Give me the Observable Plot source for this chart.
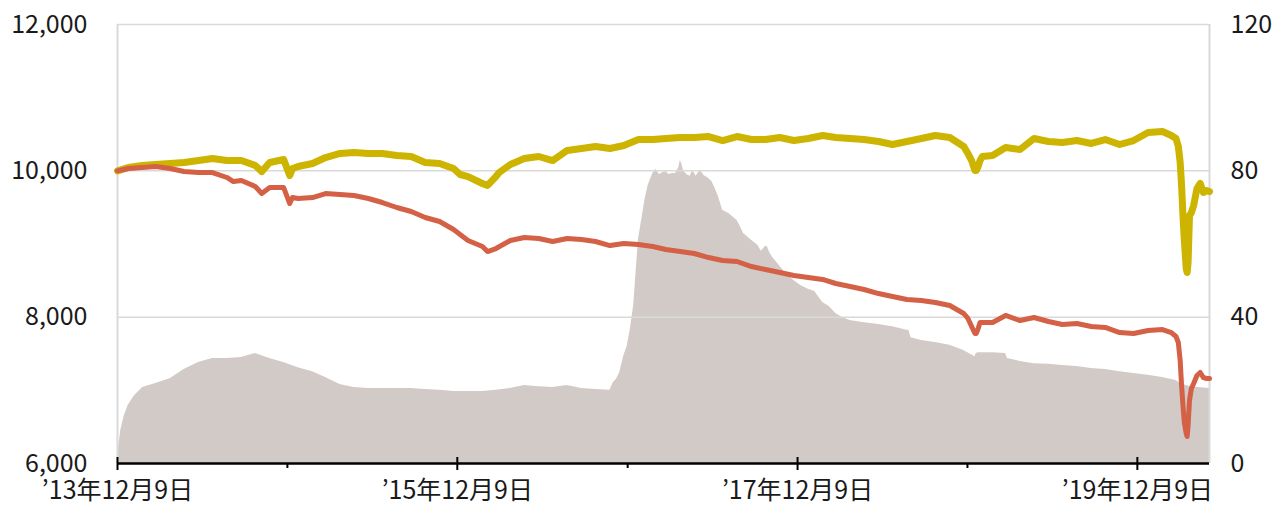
<!DOCTYPE html>
<html>
<head>
<meta charset="utf-8">
<script src="https://cdn.jsdelivr.net/npm/d3@7"></script>
<script src="https://cdn.jsdelivr.net/npm/@observablehq/plot@0.6"></script>
<style>
  html, body { margin: 0; padding: 0; background: #fff; }
  #chart { width: 1282px; height: 507px; }
</style>
</head>
<body>
<div id="chart"></div>
<script>
// ---- Data ----
const domainDates = ["2013-12-09", "2020-05-12"];
const majorTickDates = ["2013-12-09", "2015-12-09", "2017-12-09", "2019-12-09"];
const minorTickDates = ["2014-12-09", "2016-12-09", "2018-12-09"];
const leftTicks = [6000, 8000, 10000, 12000];
const rightTicks = [0, 40, 80, 120];

// yellow line (left axis)
const yellowDates = ["2013-12-09","2014-01-01","2014-02-01","2014-03-01","2014-04-01","2014-05-01","2014-06-01","2014-07-01","2014-08-01","2014-09-01","2014-10-01","2014-10-15","2014-11-01","2014-12-01","2014-12-14","2014-12-20",
"2015-01-01","2015-02-01","2015-03-01","2015-04-01","2015-05-01","2015-06-01","2015-07-01","2015-08-01","2015-09-01","2015-10-01","2015-11-01","2015-12-01","2015-12-15",
"2016-01-01","2016-02-01","2016-02-12","2016-03-01","2016-03-08","2016-04-01","2016-05-01","2016-06-01","2016-07-01","2016-08-01","2016-09-01","2016-10-01","2016-11-01","2016-12-01",
"2017-01-01","2017-02-01","2017-03-01","2017-04-01","2017-05-01","2017-06-01","2017-07-01","2017-08-01","2017-09-01","2017-10-01","2017-11-01","2017-12-01",
"2018-01-01","2018-02-01","2018-03-01","2018-04-01","2018-05-01","2018-06-01","2018-07-01","2018-08-01","2018-09-01","2018-10-01","2018-11-01","2018-12-01","2018-12-10","2018-12-18","2018-12-25","2018-12-28",
"2019-01-01","2019-01-05","2019-01-10","2019-02-01","2019-03-01","2019-04-01","2019-05-01","2019-06-01","2019-07-01","2019-08-01","2019-09-01","2019-10-01","2019-11-01","2019-12-01",
"2020-01-01","2020-02-01","2020-02-20","2020-03-01","2020-03-06","2020-03-10","2020-03-13","2020-03-16","2020-03-19","2020-03-23","2020-03-25","2020-03-27","2020-03-30","2020-04-03","2020-04-08","2020-04-15","2020-04-22","2020-04-29","2020-05-06","2020-05-12"];
const yellowValues = [10000,10045,10073,10087,10100,10114,10141,10168,10141,10141,10073,9990,10114,10155,9936,10032,
10059,10100,10182,10237,10250,10237,10237,10209,10196,10114,10100,10032,9950,
9922,9827,9800,9922,9977,10087,10168,10196,10141,10278,10305,10333,10305,10346,
10428,10428,10442,10455,10455,10469,10414,10469,10428,10428,10455,10414,
10442,10483,10455,10442,10428,10401,10360,10401,10442,10483,10455,10333,10237,10141,10004,10004,
10059,10141,10196,10209,10319,10292,10442,10401,10387,10414,10374,10428,10360,10414,
10524,10538,10483,10442,10336,10114,9799,9389,9048,8665,8610,8747,9389,9430,9526,9758,9827,9704,9731,9717];

// red line (left axis)
const redDates = ["2013-12-09","2014-01-01","2014-02-01","2014-03-01","2014-04-01","2014-05-01","2014-06-01","2014-07-01","2014-08-01","2014-08-15","2014-09-01","2014-10-01","2014-10-15","2014-11-01","2014-12-01","2014-12-14","2014-12-20",
"2015-01-01","2015-02-01","2015-03-01","2015-04-01","2015-05-01","2015-06-01","2015-07-01","2015-08-01","2015-09-01","2015-10-01","2015-11-01","2015-12-01",
"2016-01-01","2016-02-01","2016-02-12","2016-03-01","2016-04-01","2016-05-01","2016-06-01","2016-07-01","2016-08-01","2016-09-01","2016-10-01","2016-11-01","2016-12-01",
"2017-01-01","2017-02-01","2017-03-01","2017-04-01","2017-05-01","2017-06-01","2017-07-01","2017-08-01","2017-09-01","2017-10-01","2017-11-01","2017-12-01",
"2018-01-01","2018-02-01","2018-03-01","2018-04-01","2018-05-01","2018-06-01","2018-07-01","2018-08-01","2018-09-01","2018-10-01","2018-11-01","2018-12-01","2018-12-10","2018-12-18","2018-12-25","2018-12-28",
"2019-01-01","2019-01-05","2019-01-10","2019-02-01","2019-03-01","2019-04-01","2019-05-01","2019-06-01","2019-07-01","2019-08-01","2019-09-01","2019-10-01","2019-11-01","2019-12-01",
"2020-01-01","2020-02-01","2020-02-20","2020-03-01","2020-03-06","2020-03-10","2020-03-13","2020-03-16","2020-03-19","2020-03-23","2020-03-25","2020-03-27","2020-03-30","2020-04-03","2020-04-08","2020-04-15","2020-04-22","2020-04-29","2020-05-06","2020-05-12"];
const redValues = [10000,10032,10045,10059,10032,9990,9977,9977,9909,9854,9868,9786,9690,9772,9772,9553,9635,
9622,9635,9690,9676,9663,9622,9567,9499,9444,9362,9308,9198,
9048,8966,8897,8938,9048,9089,9075,9034,9075,9061,9034,8979,9007,
8993,8966,8925,8897,8870,8815,8774,8761,8692,8651,8610,8569,
8542,8515,8460,8419,8378,8323,8282,8241,8228,8200,8159,8050,7982,7872,7777,7777,
7845,7927,7927,7927,8023,7954,7995,7941,7900,7913,7872,7859,7790,7777,
7818,7831,7790,7736,7654,7408,7066,6793,6560,6410,6369,6519,6861,7025,7093,7203,7244,7175,7162,7162];

// grey area (right axis, 0-120)
const grayDates = ["2013-12-09","2013-12-12","2013-12-16","2013-12-23","2014-01-01","2014-01-15","2014-02-01","2014-03-01","2014-04-01","2014-05-01","2014-06-01","2014-07-01","2014-08-01","2014-09-01","2014-10-01","2014-11-01","2014-12-01",
"2015-01-01","2015-02-01","2015-03-01","2015-04-01","2015-05-01","2015-06-01","2015-07-01","2015-08-01","2015-09-01","2015-10-01","2015-11-01","2015-12-01",
"2016-01-01","2016-02-01","2016-03-01","2016-04-01","2016-05-01","2016-06-01","2016-07-01","2016-08-01","2016-09-01","2016-10-01","2016-11-01","2016-11-08","2016-11-15","2016-11-22","2016-12-01","2016-12-08","2016-12-15","2016-12-22",
"2017-01-01","2017-01-08","2017-01-15","2017-01-22","2017-02-01","2017-02-08","2017-02-15","2017-02-22","2017-03-01","2017-03-08","2017-03-15","2017-03-22","2017-03-29","2017-04-01","2017-04-04","2017-04-08","2017-04-15","2017-04-22","2017-04-27","2017-05-01","2017-05-05","2017-05-10","2017-05-15","2017-05-22","2017-06-01","2017-06-08","2017-06-15","2017-06-22","2017-07-01","2017-07-15","2017-08-01","2017-08-08","2017-08-15","2017-09-01","2017-09-15","2017-09-22","2017-10-01","2017-10-05","2017-10-10","2017-10-15","2017-11-01","2017-11-15","2017-12-01","2017-12-15",
"2018-01-01","2018-01-15","2018-02-01","2018-02-15","2018-03-01","2018-03-15","2018-04-01","2018-05-01","2018-06-01","2018-07-01","2018-08-01","2018-08-05","2018-08-10","2018-09-01","2018-10-01","2018-11-01","2018-12-01","2018-12-25","2018-12-28",
"2019-01-01","2019-02-01","2019-03-01","2019-03-05","2019-04-01","2019-05-01","2019-06-01","2019-07-01","2019-08-01","2019-09-01","2019-10-01","2019-11-01","2019-12-01",
"2020-01-01","2020-02-01","2020-03-01","2020-03-10","2020-04-01","2020-05-12"];
const grayValues = [1.9,4.9,9.0,12.8,15.9,18.6,20.8,21.9,23.2,25.7,27.6,28.7,28.7,29.0,30.1,28.7,27.6,
26.2,25.1,23.5,21.6,20.8,20.5,20.5,20.5,20.5,20.2,20.0,19.7,
19.7,19.7,20.0,20.5,21.3,21.0,20.8,21.3,20.5,20.2,20.0,22.1,23.0,24.9,29.5,32.0,36.9,43.2,
61.0,66.4,71.9,76.0,79.3,80.4,79.0,79.5,79.8,79.0,79.3,79.3,80.9,82.8,82.0,80.1,79.0,78.5,79.8,79.5,78.5,79.5,80.1,78.7,77.9,77.1,75.2,73.0,69.2,68.3,66.4,64.8,62.9,61.0,59.6,58.0,59.3,59.3,57.7,56.6,53.9,51.7,50.0,48.7,
47.6,47.0,44.0,42.9,41.0,39.9,39.1,38.5,38.0,37.4,36.4,36.4,34.4,33.6,33.1,32.3,30.9,29.2,30.1,
30.3,30.3,30.1,28.7,27.9,27.3,27.1,26.8,26.5,26.0,25.7,25.1,24.6,
24.1,23.5,22.7,21.9,21.0,20.5];

// ---- Build tables ----
const parse = s => new Date(s + "T00:00:00Z");
const yellow = yellowDates.map((d, i) => ({date: parse(d), value: yellowValues[i]}));
const red = redDates.map((d, i) => ({date: parse(d), value: redValues[i]}));
const gray = grayDates.map((d, i) => ({date: parse(d), value: grayValues[i]}));

// right axis (0..120) mapped onto left axis domain (6000..12000)
const rightToLeft = v => 6000 + v * 50;
const leftToRight = v => (v - 6000) / 50;

const fmtDate = d => `’${String(d.getUTCFullYear()).slice(2)}年${d.getUTCMonth() + 1}月${d.getUTCDate()}日`;

const chart = Plot.plot({
  width: 1282,
  height: 507,
  marginLeft: 117,
  marginRight: 73,
  marginTop: 24,
  marginBottom: 44,
  style: {fontFamily: '"Noto Sans CJK JP", "Noto Sans", sans-serif', fontSize: "25px", color: "#1a1a1a", background: "#fff"},
  x: {type: "utc", domain: domainDates.map(parse)},
  y: {domain: [6000, 12000]},
  marks: [
    Plot.areaY(gray, {x: "date", y1: 6000, y2: d => rightToLeft(d.value), fill: "#d2cac7", curve: "linear"}),
    Plot.ruleY(leftTicks.slice(1), {stroke: "#d9d9d9", strokeWidth: 1.5}),
    Plot.ruleX(domainDates.map(parse), {stroke: "#d9d9d9", strokeWidth: 2}),
    Plot.lineY(yellow, {x: "date", y: "value", stroke: "#ccb400", strokeWidth: 7, strokeLinejoin: "round", strokeLinecap: "round"}),
    Plot.lineY(red, {x: "date", y: "value", stroke: "#d46046", strokeWidth: 5, strokeLinejoin: "round", strokeLinecap: "round"}),
    Plot.ruleY([6000], {stroke: "#000", strokeWidth: 2.5}),
    Plot.axisX(majorTickDates.map(parse), {anchor: "bottom", tickSize: 7, tickPadding: 11, strokeWidth: 2, stroke: "#000", tickFormat: fmtDate, fontSize: 25, label: null}),
    Plot.axisX(majorTickDates.map(parse), {anchor: "bottom", tickSize: -6, strokeWidth: 2, stroke: "#000", fill: "none", label: null}),
    Plot.axisX(minorTickDates.map(parse), {anchor: "bottom", tickSize: 5, strokeWidth: 2, stroke: "#000", fill: "none", label: null}),
    Plot.axisY(leftTicks, {anchor: "left", tickSize: 0, tickPadding: 30, tickFormat: d3.format(","), fontSize: 25, label: null}),
    Plot.axisY(rightTicks.map(rightToLeft), {anchor: "right", tickSize: 0, tickPadding: 21, tickFormat: d => String(leftToRight(d)), fontSize: 25, label: null})
  ]
});
document.getElementById("chart").appendChild(chart);
</script>
</body>
</html>
